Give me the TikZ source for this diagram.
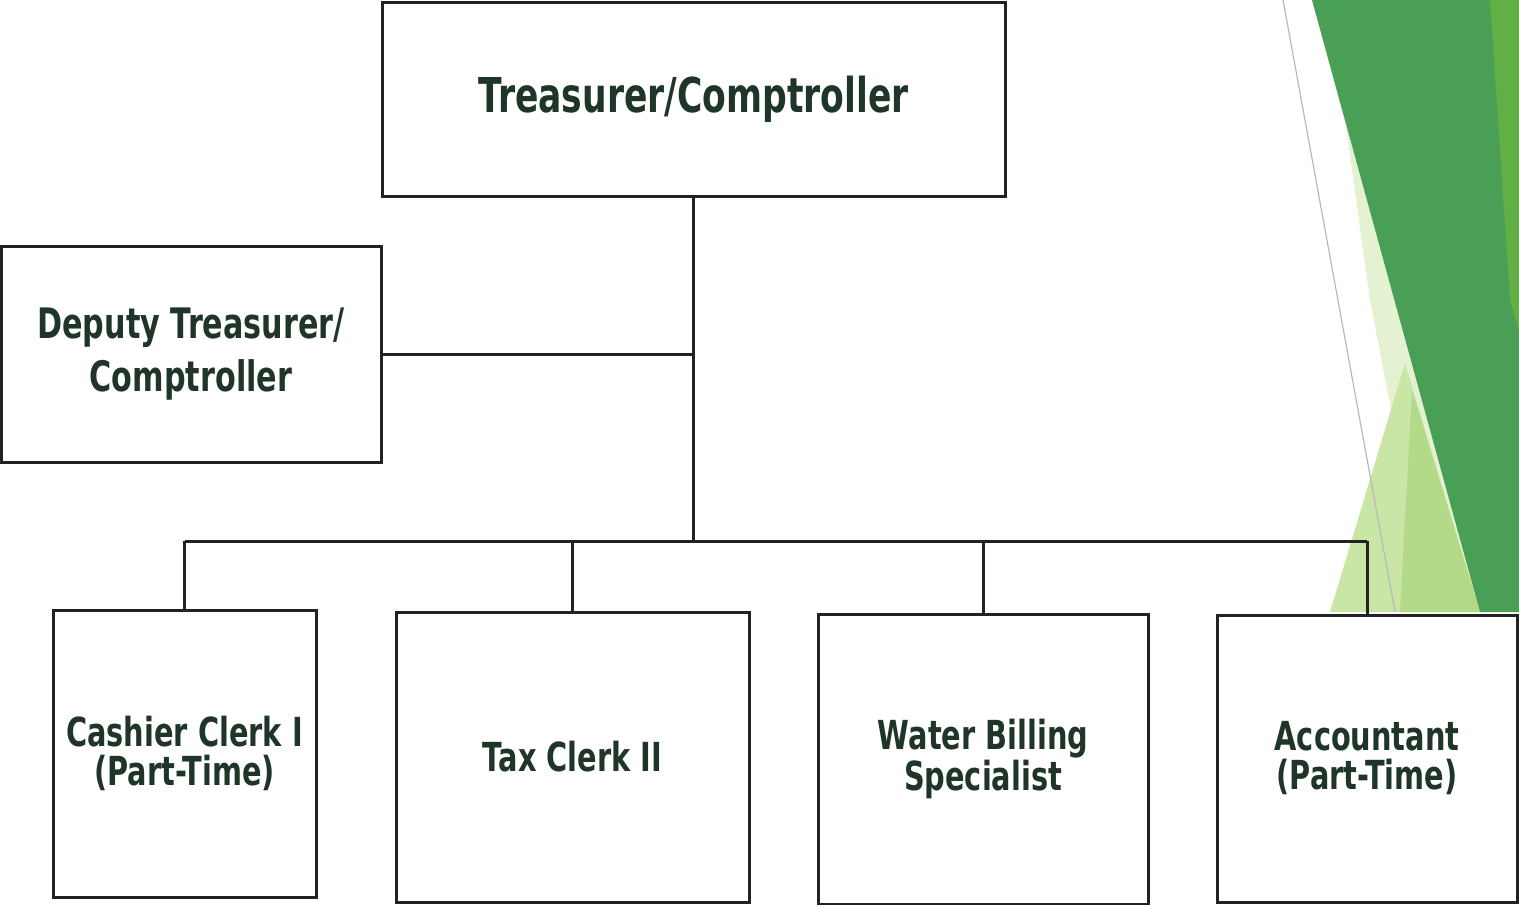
\documentclass[tikz,border=0pt]{standalone}
\usepackage{fontspec}
\setmainfont{DejaVu Sans}[FakeStretch=0.72]
\definecolor{txt}{HTML}{1E3528}
\definecolor{ln}{HTML}{222222}
\definecolor{gdark}{HTML}{4A9F57}
\definecolor{gmid}{HTML}{62B045}
\definecolor{gpale}{HTML}{E4F2D2}
\definecolor{glight}{HTML}{B3DA88}
\definecolor{glight2}{HTML}{C9E6A6}
\begin{document}
\begin{tikzpicture}[x=0.5pt,y=-0.5pt,
  box/.style={draw=ln,line width=1.5pt,fill=white,align=center,inner sep=0pt,
    text=txt,font=\fontsize{20}{19.5}\selectfont\bfseries},
  conn/.style={draw=ln,line width=1.5pt}]
\useasboundingbox (0,0) rectangle (1519,904);
% green decoration
\fill[gpale] (1346,127) -- (1370,300) -- (1392,415) -- (1480,612) -- (1519,612) -- (1519,0) -- (1312,0) -- cycle;
\fill[glight2] (1405,363) -- (1330,612) -- (1480,612) -- cycle;
\fill[glight] (1412,390) -- (1400,612) -- (1480,612) -- cycle;
\fill[gdark] (1312,0) -- (1519,0) -- (1519,612) -- (1480,612) -- cycle;
\fill[gmid] (1490,0) -- (1519,0) -- (1519,330) -- (1510,300) -- cycle;
\draw[gray!55,line width=0.6pt] (1283,0) -- (1395,612);
% nodes
\node[box,minimum width=311.5pt,minimum height=96.5pt,font=\fontsize{24}{24}\selectfont\bfseries] (top) at (693.5,99.5) {Treasurer/Comptroller};
\node[box,minimum width=190pt,minimum height=108pt,font=\fontsize{21}{26.5}\selectfont\bfseries] (dep) at (191,354) {Deputy Treasurer/\\Comptroller};
\node[box,minimum width=131.5pt,minimum height=143.5pt] (cash) at (184.5,753.5) {Cashier Clerk I\\(Part-Time)};
\node[box,minimum width=176.5pt,minimum height=145pt] (tax) at (572.5,757) {Tax Clerk II};
\node[box,minimum width=165pt,minimum height=145pt] (water) at (983,759) {Water Billing\\Specialist};
\node[box,minimum width=150pt,minimum height=143.5pt] (acc) at (1367,758.5) {Accountant\\(Part-Time)};
\coordinate (bus) at (692,541);
% connectors
\draw[conn] (top.south) -- (top.south |- bus);
\draw[conn] (dep.east) -- (dep.east -| top.south);
\draw[conn] (cash.north |- bus) -- (acc.north |- bus);
\draw[conn] (cash.north) -- (cash.north |- bus);
\draw[conn] (tax.north) -- (tax.north |- bus);
\draw[conn] (water.north) -- (water.north |- bus);
\draw[conn] (acc.north) -- (acc.north |- bus);
\end{tikzpicture}
\end{document}
